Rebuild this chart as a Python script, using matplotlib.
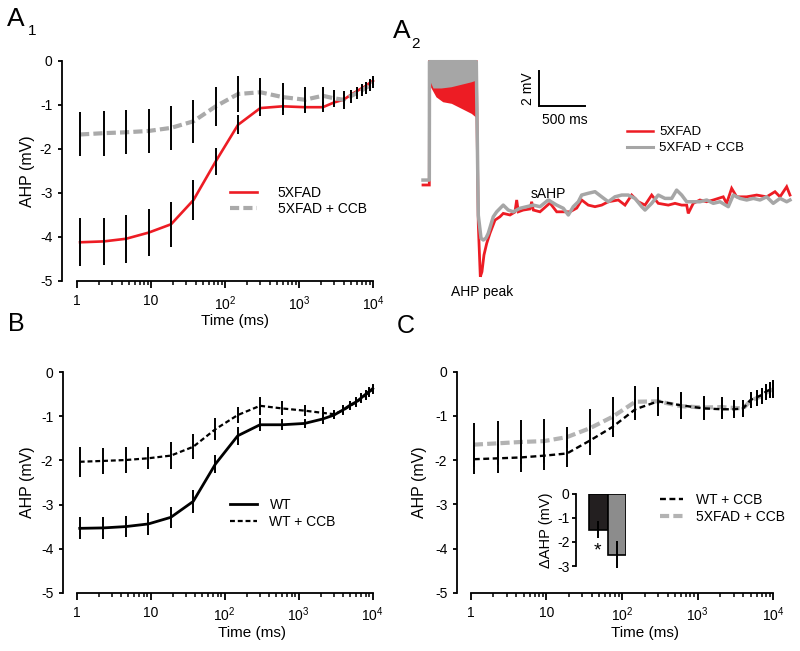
import matplotlib
matplotlib.use("Agg")
import matplotlib.pyplot as plt
import numpy as np
from matplotlib.lines import Line2D
from matplotlib.ticker import FixedLocator, NullFormatter

plt.rcParams['font.family'] = ['Liberation Sans', 'DejaVu Sans']
plt.rcParams['mathtext.fontset'] = 'custom'
plt.rcParams['mathtext.rm'] = 'Liberation Sans'
plt.rcParams['axes.unicode_minus'] = False

# ---------------- data ----------------
time_ms = [1.1, 2.3, 4.6, 9.3, 18.7, 37.5, 75, 150, 300, 600, 1200, 2100,
           3000, 4000, 5000, 6000, 7000, 8000, 9000, 10000]

# A1
a1_5xfad = [-4.12, -4.10, -4.04, -3.90, -3.71, -3.16, -2.28, -1.45, -1.07, -1.03, -1.05, -1.05,
            -0.94, -0.88, -0.77, -0.69, -0.62, -0.57, -0.50, -0.45]
a1_5xfad_err = [0.55, 0.54, 0.55, 0.53, 0.51, 0.45, 0.31, 0.22, 0.19, 0.19, 0.13, 0.12,
                0.09, 0.15, 0.10, 0.10, 0.10, 0.10, 0.10, 0.10]
a1_ccb = [-1.67, -1.64, -1.62, -1.59, -1.52, -1.37, -1.03, -0.75, -0.71, -0.82, -0.88, -0.79,
          -0.85, -0.88, -0.80, -0.73, -0.67, -0.61, -0.56, -0.50]
a1_ccb_err = [0.50, 0.51, 0.50, 0.51, 0.50, 0.49, 0.45, 0.41, 0.32, 0.32, 0.28, 0.21,
              0.19, 0.20, 0.15, 0.14, 0.13, 0.13, 0.12, 0.12]

# B
b_wt = [-3.54, -3.53, -3.50, -3.44, -3.29, -2.93, -2.08, -1.44, -1.19, -1.19, -1.16, -1.06,
        -0.97, -0.85, -0.74, -0.67, -0.58, -0.50, -0.43, -0.37]
b_wt_err = [0.25, 0.25, 0.24, 0.24, 0.24, 0.26, 0.20, 0.20, 0.15, 0.12, 0.11, 0.11,
            0.10, 0.10, 0.10, 0.10, 0.10, 0.10, 0.10, 0.10]
b_wtccb = [-2.03, -2.01, -1.99, -1.95, -1.89, -1.69, -1.29, -0.97, -0.76, -0.82, -0.87, -0.92,
           -0.95, -0.86, -0.76, -0.68, -0.60, -0.52, -0.45, -0.39]
b_wtccb_err = [0.34, 0.30, 0.29, 0.25, 0.30, 0.28, 0.25, 0.19, 0.21, 0.16, 0.13, 0.14,
               0.10, 0.10, 0.10, 0.10, 0.10, 0.10, 0.10, 0.10]

# C
c_wtccb = [-1.98, -1.96, -1.94, -1.90, -1.85, -1.56, -1.25, -0.85, -0.67, -0.76, -0.83, -0.85,
           -0.85, -0.83, -0.64, -0.58, -0.53, -0.45, -0.41, -0.38]
c_wtccb_err = [0.33, 0.33, 0.32, 0.32, 0.30, 0.33, 0.22, 0.24, 0.31, 0.30, 0.26, 0.22,
               0.19, 0.20, 0.17, 0.17, 0.17, 0.17, 0.17, 0.19]
c_5xccb = [-1.65, -1.62, -1.59, -1.57, -1.48, -1.28, -1.02, -0.68, -0.67, -0.78, -0.81, -0.80,
           -0.82, -0.83, -0.66, -0.60, -0.55, -0.48, -0.43, -0.40]
c_5xccb_err = [0.50, 0.50, 0.50, 0.50, 0.24, 0.43, 0.45, 0.36, 0.33, 0.30, 0.26, 0.22,
               0.19, 0.20, 0.17, 0.17, 0.17, 0.17, 0.17, 0.19]

# inset (delta AHP)
inset_groups = ['WT', '5XFAD']
inset_vals = [-1.50, -2.53]
inset_err = [0.35, 0.55]

# A2 traces (ms, mV)
gray_t = [0, 69, 71, 583, 605, 635, 660, 689, 714, 769, 806, 878, 933, 988, 1061, 1134, 1207,
          1280, 1371, 1463, 1535, 1590, 1644, 1699, 1736, 1808, 1882, 1955, 2027, 2100, 2174,
          2246, 2319, 2393, 2429, 2502, 2574, 2647, 2721, 2775, 2830, 2885, 2957, 3030, 3104,
          3176, 3249, 3340, 3395, 3468, 3541, 3614, 3687, 3760, 3832, 3906, 3979, 4015]
gray_v = [0, 0, 6.71, 6.71, -2.0, -3.3, -3.40, -3.29, -3.02, -2.08, -1.80, -1.42, -1.70, -1.80,
          -1.60, -1.51, -1.42, -1.51, -1.13, -1.42, -1.60, -1.98, -1.51, -1.23, -0.85, -0.75,
          -0.66, -0.95, -1.23, -0.95, -0.85, -0.85, -1.04, -1.51, -1.70, -1.32, -0.85, -1.04,
          -1.04, -0.57, -0.85, -1.23, -1.23, -1.23, -1.13, -1.32, -1.23, -1.51, -0.85, -1.04,
          -1.13, -1.04, -1.13, -0.95, -1.32, -1.04, -1.23, -1.13]
red_t = [0, 69, 71, 583, 605, 627, 645, 667, 697, 733, 788, 842, 878, 952, 1006, 1025, 1043,
         1097, 1171, 1189, 1207, 1280, 1389, 1463, 1535, 1608, 1682, 1736, 1808, 1882, 1955,
         2027, 2137, 2210, 2283, 2356, 2429, 2502, 2574, 2684, 2757, 2830, 2885, 2902, 2957,
         3030, 3104, 3176, 3285, 3322, 3377, 3432, 3541, 3651, 3760, 3851, 3906, 3979, 4015]
red_v = [-0.28, -0.28, 6.71, 6.71, -2.5, -5.48, -5.2, -4.25, -3.59, -3.01, -2.27, -2.08, -1.89,
         -1.98, -1.81, -1.13, -1.80, -1.70, -1.64, -1.23, -1.70, -1.80, -1.30, -1.80, -1.80,
         -1.80, -1.59, -1.13, -1.42, -1.51, -1.42, -1.23, -1.13, -1.42, -0.85, -1.23, -1.42,
         -0.85, -1.32, -1.42, -1.32, -1.42, -1.42, -1.89, -1.32, -1.13, -1.23, -1.13, -0.95,
         -1.32, -0.47, -0.95, -0.95, -0.85, -0.95, -0.66, -0.95, -0.38, -0.85]
block_top = 6.71
gray_block_t = [71, 109, 197, 306, 416, 525, 583]
gray_block_low = [5.67, 5.22, 5.22, 5.29, 5.43, 5.57, 5.67]
red_block_t = [71, 142, 216, 310, 383, 456, 528, 572, 583]
red_block_low = [5.39, 4.72, 4.44, 4.35, 4.16, 3.97, 3.78, 3.59, 3.57]
scale_ms = 500
scale_mv = 2
scale_origin = (1272, 4.2)

RED = '#ed1c24'
GRAY_A1 = '#aaaaaa'
GRAY_C = '#b3b3b3'
GRAY_TR = '#a6a6a6'

W, H = 800, 651
fig = plt.figure(figsize=(8, 6.51), dpi=100)

minor_pos = [k * 10 ** d for d in range(4) for k in range(2, 10)]


def main_axes(ys_px, x1_px, x4_px, y0_px, y5_px):
    dec = (x4_px - x1_px) / 4.0
    xl = 10 ** (-(x1_px - ys_px) / dec)
    right_px = x4_px + dec * np.log10(1.1)
    ax = fig.add_axes([ys_px / W, 1 - y5_px / H, (right_px - ys_px) / W, (y5_px - y0_px) / H])
    ax.set_xscale('log')
    ax.set_xlim(xl, 1.1e4)
    ax.set_ylim(-5, 0)
    for s in ['top', 'right']:
        ax.spines[s].set_visible(False)
    ax.spines['left'].set_bounds(-5, 0)
    ax.spines['bottom'].set_bounds(1, 1e4)
    for s in ['left', 'bottom']:
        ax.spines[s].set_linewidth(1.3)
    ax.set_xticks([1, 10, 100, 1000, 10000])
    ax.set_xticklabels(['1', '10', r'$\mathregular{10^{2}}$', r'$\mathregular{10^{3}}$',
                        r'$\mathregular{10^{4}}$'])
    ax.xaxis.set_minor_locator(FixedLocator(minor_pos))
    ax.xaxis.set_minor_formatter(NullFormatter())
    ax.set_yticks([0, -1, -2, -3, -4, -5])
    ax.set_yticklabels(['0', '-1', '-2', '-3', '-4', '-5'])
    ax.tick_params(axis='both', which='major', labelsize=10, width=1.3, direction='out')
    ax.tick_params(axis='x', which='major', length=5, pad=4.5)
    ax.tick_params(axis='x', which='minor', length=3, width=1.1)
    ax.tick_params(axis='y', which='major', length=3, pad=4)
    ax.set_ylabel('AHP (mV)', fontsize=11.5)
    ax.set_xlabel('Time (ms)', fontsize=11)
    return ax


# ---------------- A1 ----------------
axA1 = main_axes(62, 77, 373, 61, 281)
axA1.plot(time_ms, a1_5xfad, color=RED, lw=1.9, zorder=3, label='5XFAD', clip_on=False)
axA1.plot(time_ms, a1_ccb, color=GRAY_A1, lw=3, ls=(0, (2.2, 1.0)), zorder=3,
          label='5XFAD + CCB', clip_on=False)
axA1.errorbar(time_ms, a1_5xfad, yerr=a1_5xfad_err, fmt='none', ecolor='black',
              elinewidth=1.4, capsize=0, zorder=4, clip_on=False)
axA1.errorbar(time_ms, a1_ccb, yerr=a1_ccb_err, fmt='none', ecolor='black',
              elinewidth=1.4, capsize=0, zorder=4, clip_on=False)
axA1.yaxis.set_label_coords(-0.087, 0.5)
axA1.xaxis.set_label_coords(0.55, -0.15)
axA1.legend(loc='center left', bbox_to_anchor=(230 / W, 1 - 200.85 / H),
            bbox_transform=fig.transFigure, frameon=False, fontsize=10,
            handlelength=1.94, handletextpad=1.5, labelspacing=0.15,
            borderpad=0, borderaxespad=0)

# ---------------- B ----------------
axB = main_axes(63, 76.7, 372.7, 372.3, 592.7)
axB.plot(time_ms, b_wt, color='black', lw=2.0, zorder=3, label='WT', clip_on=False)
axB.plot(time_ms, b_wtccb, color='black', lw=1.6, ls=(0, (2.2, 1.3)), zorder=3,
         label='WT + CCB', clip_on=False)
axB.errorbar(time_ms, b_wt, yerr=b_wt_err, fmt='none', ecolor='black',
             elinewidth=1.4, capsize=0, zorder=4, clip_on=False)
axB.errorbar(time_ms, b_wtccb, yerr=b_wtccb_err, fmt='none', ecolor='black',
             elinewidth=1.4, capsize=0, zorder=4, clip_on=False)
axB.yaxis.set_label_coords(-0.09, 0.5)
axB.xaxis.set_label_coords(0.603, -0.152)
axB.legend(loc='center left', bbox_to_anchor=(230 / W, 1 - 513.5 / H),
           bbox_transform=fig.transFigure, frameon=False, fontsize=10,
           handlelength=1.94, handletextpad=0.9, labelspacing=0.2,
           borderpad=0, borderaxespad=0)

# ---------------- C ----------------
axC = main_axes(457, 470.7, 773.3, 371.7, 592.7)
lg, = axC.plot(time_ms, c_5xccb, color=GRAY_C, lw=3, ls=(0, (2.2, 1.0)), zorder=3,
               clip_on=False)
lb, = axC.plot(time_ms, c_wtccb, color='black', lw=1.7, ls=(0, (2.5, 1.5)), zorder=3,
               clip_on=False)
axC.errorbar(time_ms, c_5xccb, yerr=c_5xccb_err, fmt='none', ecolor='black',
             elinewidth=1.4, capsize=0, zorder=4, clip_on=False)
axC.errorbar(time_ms, c_wtccb, yerr=c_wtccb_err, fmt='none', ecolor='black',
             elinewidth=1.4, capsize=0, zorder=4, clip_on=False)
axC.yaxis.set_label_coords(-0.095, 0.5)
axC.xaxis.set_label_coords(0.589, -0.152)
axC.legend([lb, lg], ['WT + CCB', '5XFAD + CCB'], loc='center left',
           bbox_to_anchor=(660 / W, 1 - 508.5 / H), bbox_transform=fig.transFigure,
           frameon=False, fontsize=10, handlelength=1.68, handletextpad=0.9,
           labelspacing=0.2, borderpad=0, borderaxespad=0)

# inset
il, ir, it, ib = 575.7, 626.0, 493.7, 566.0
axI = fig.add_axes([il / W, 1 - ib / H, (ir - il) / W, (ib - it) / H])
xpos = np.arange(len(inset_groups))
axI.bar(xpos, inset_vals, width=1.0, color=['#231f20', '#8c8c8c'], edgecolor='black',
        linewidth=1.2, zorder=2)
axI.errorbar(xpos, inset_vals, yerr=inset_err, fmt='none', ecolor='black', elinewidth=1.4,
             capsize=0, zorder=3, clip_on=False)
axI.set_xlim(-1.227, 1.5)
axI.set_ylim(-3, 0)
for s in ['top', 'right', 'bottom']:
    axI.spines[s].set_visible(False)
axI.spines['left'].set_linewidth(1.3)
axI.set_xticks([])
axI.set_yticks([0, -1, -2, -3])
axI.set_yticklabels(['0', '-1', '-2', '-3'])
axI.tick_params(axis='y', labelsize=10, length=3, width=1.3, pad=1.5)
axI.patch.set_alpha(0)
axI.set_ylabel('\u0394AHP (mV)', fontsize=10.5)
axI.yaxis.set_label_coords(-0.45, 0.5)
fig.text(597 / W, 1 - 551 / H, '*', fontsize=14, ha='center', va='center')

# ---------------- A2 ----------------
axA2 = fig.add_axes([415 / W, 1 - 300 / H, 380 / W, 245 / H])
axA2.set_xlim(-87.5, 4070)
axA2.set_ylim(-6.80, 7.09)
axA2.axis('off')
axA2.plot(red_t, red_v, color=RED, lw=2.0, zorder=2, solid_joinstyle='miter')
axA2.fill_between(red_block_t, red_block_low, block_top, color=RED, lw=0, zorder=2)
axA2.plot(gray_t, gray_v, color=GRAY_TR, lw=2.5, zorder=3)
axA2.fill_between(gray_block_t, gray_block_low, block_top, color=GRAY_TR, lw=0, zorder=3)
sx, sy = scale_origin
axA2.plot([sx, sx, sx + scale_ms], [sy + scale_mv, sy, sy], color='black', lw=1.4,
          solid_joinstyle='miter')
axA2.legend([Line2D([], [], color=RED, lw=1.8), Line2D([], [], color=GRAY_TR, lw=2.2)],
            ['5XFAD', '5XFAD + CCB'], loc='center left',
            bbox_to_anchor=(627 / W, 1 - 140.35 / H), bbox_transform=fig.transFigure,
            frameon=False, fontsize=9.5, handlelength=1.97, handletextpad=0.45,
            labelspacing=0.29, borderpad=0, borderaxespad=0)
fig.text(528 / W, 1 - 89 / H, '2 mV', rotation=90, fontsize=10, ha='center', va='center')
fig.text(564.5 / W, 1 - 120 / H, '500 ms', fontsize=10, ha='center', va='center')
fig.text(548 / W, 1 - 194 / H, 'sAHP', fontsize=10, ha='center', va='center')
fig.text(482 / W, 1 - 292 / H, 'AHP peak', fontsize=10, ha='center', va='center')

# ---------------- panel letters ----------------
fig.text(7 / W, 1 - 26 / H, 'A', fontsize=19, ha='left', va='baseline')
fig.text(28 / W, 1 - 35 / H, '1', fontsize=11, ha='left', va='baseline')
fig.text(393 / W, 1 - 38 / H, 'A', fontsize=19, ha='left', va='baseline')
fig.text(411 / W, 1 - 48 / H, '2', fontsize=11, ha='left', va='baseline')
fig.text(8 / W, 1 - 331 / H, 'B', fontsize=18, ha='left', va='baseline')
fig.text(397 / W, 1 - 333 / H, 'C', fontsize=18, ha='left', va='baseline')

fig.savefig('out.png', dpi=100)
